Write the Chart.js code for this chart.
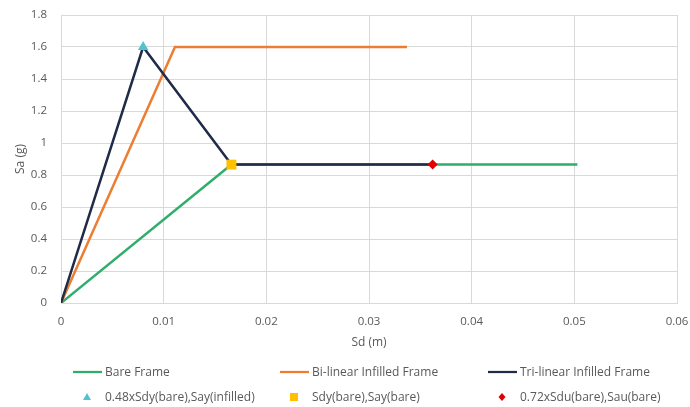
<!DOCTYPE html>
<html>
<head>
<meta charset="utf-8">
<script src="https://cdn.jsdelivr.net/npm/chart.js@4"></script>
<style>
  html, body { margin: 0; padding: 0; background: #fff; }
</style>
</head>
<body>
<canvas id="capacity" width="690" height="407"></canvas>
<script>
// ---- data (Sd in m, Sa in g) ----
const bareSd = [0, 0.0166, 0.0503];
const bareSa = [0, 0.865, 0.865];
const biSd = [0, 0.0111, 0.0337];
const biSa = [0, 1.6, 1.6];
const triSd = [0, 0.0080, 0.0166, 0.0362];
const triSa = [0, 1.6, 0.865, 0.865];
const triangleSd = [0.0080];
const triangleSa = [1.6];
const squareSd = [0.0166];
const squareSa = [0.865];
const diamondSd = [0.0362];
const diamondSa = [0.865];

const xTicks = [0, 0.01, 0.02, 0.03, 0.04, 0.05, 0.06];
const yTicks = [0, 0.2, 0.4, 0.6, 0.8, 1, 1.2, 1.4, 1.6, 1.8];

const toPts = (xs, ys) => xs.map((x, i) => ({ x: x, y: ys[i] }));
const fmt = (v) => String(Number(v.toFixed(3)));

const FONT = '"Open Sans", "Liberation Sans", sans-serif';
const TEXT = '#595959';
const GRID = '#d9d9d9';

// legend drawn in three fixed columns like the spreadsheet original
const legendGrid = {
    id: 'legendGrid',
    afterDraw(chart) {
        const ctx = chart.ctx;
        const cols = [105, 312, 520];
        const rows = [372, 397];
        ctx.save();
        ctx.font = '12px ' + FONT;
        ctx.fillStyle = TEXT;
        ctx.textBaseline = 'middle';
        chart.data.datasets.forEach((ds, i) => {
            const tx = cols[i % 3];
            const ty = rows[Math.floor(i / 3)];
            if (ds.showLine) {
                ctx.strokeStyle = ds.borderColor;
                ctx.lineWidth = 2.25;
                ctx.beginPath();
                ctx.moveTo(tx - 32, ty);
                ctx.lineTo(tx - 3, ty);
                ctx.stroke();
            } else {
                const cx = tx - 18;
                ctx.fillStyle = ds.pointBackgroundColor;
                ctx.beginPath();
                if (ds.pointStyle === 'triangle') {
                    ctx.moveTo(cx, ty - 4); ctx.lineTo(cx + 4, ty + 3); ctx.lineTo(cx - 4, ty + 3);
                } else if (ds.pointStyle === 'rect') {
                    ctx.rect(cx - 4, ty - 4, 8, 8);
                } else {
                    ctx.moveTo(cx, ty - 4); ctx.lineTo(cx + 3.5, ty); ctx.lineTo(cx, ty + 4); ctx.lineTo(cx - 3.5, ty);
                }
                ctx.closePath();
                ctx.fill();
                ctx.fillStyle = TEXT;
            }
            ctx.fillText(ds.label, tx, ty + 1);
        });
        ctx.restore();
    }
};

const lineSet = (label, xs, ys, color, order) => ({
    label: label,
    data: toPts(xs, ys),
    showLine: true,
    borderColor: color,
    backgroundColor: color,
    borderWidth: 2.5,
    pointRadius: 0,
    order: order
});

const markSet = (label, xs, ys, color, style, radius) => ({
    label: label,
    data: toPts(xs, ys),
    showLine: false,
    pointStyle: style,
    pointRadius: radius,
    pointBackgroundColor: color,
    pointBorderColor: color,
    backgroundColor: color,
    borderColor: color,
    borderWidth: 0,
    order: 0
});

new Chart(document.getElementById('capacity'), {
    type: 'scatter',
    data: {
        datasets: [
            lineSet('Bare Frame', bareSd, bareSa, '#2fae6b', 3),
            lineSet('Bi-linear Infilled Frame', biSd, biSa, '#ed7d31', 2),
            lineSet('Tri-linear Infilled Frame', triSd, triSa, '#1f2b47', 1),
            markSet('0.48xSdy(bare),Say(infilled)', triangleSd, triangleSa, '#4fc4cf', 'triangle', 6),
            markSet('Sdy(bare),Say(bare)', squareSd, squareSa, '#ffc000', 'rect', 7),
            markSet('0.72xSdu(bare),Sau(bare)', diamondSd, diamondSa, '#e00000', 'rectRot', 5)
        ]
    },
    plugins: [legendGrid],
    options: {
        responsive: false,
        animation: false,
        layout: { padding: { left: 0, right: 13, top: 15, bottom: 54 } },
        plugins: {
            legend: { display: false },
            tooltip: { enabled: false }
        },
        scales: {
            x: {
                type: 'linear',
                min: 0,
                max: 0.06,
                afterBuildTicks: (s) => { s.ticks = xTicks.map(v => ({ value: v })); },
                afterFit: (s) => { s.height = 50; s.paddingLeft = 0; s.paddingRight = 0; },
                grid: { color: GRID, lineWidth: 1, drawTicks: false },
                border: { color: GRID },
                ticks: { color: TEXT, font: { family: FONT, size: 11.5 }, padding: 12, callback: (v) => fmt(v) },
                title: { display: true, text: 'Sd (m)', color: TEXT, font: { family: FONT, size: 12 }, padding: { top: 0, bottom: 3 } }
            },
            y: {
                type: 'linear',
                min: 0,
                max: 1.8,
                afterBuildTicks: (s) => { s.ticks = yTicks.map(v => ({ value: v })); },
                afterFit: (s) => { s.width = 61; s.paddingTop = 0; s.paddingBottom = 0; },
                grid: { color: GRID, lineWidth: 1, drawTicks: false },
                border: { color: GRID },
                ticks: { color: TEXT, font: { family: FONT, size: 11.5 }, padding: 14, callback: (v) => fmt(v) },
                title: { display: true, text: 'Sa (g)', color: TEXT, font: { family: FONT, size: 12 }, padding: { top: 13, bottom: 0 } }
            }
        }
    }
});
</script>
</body>
</html>
